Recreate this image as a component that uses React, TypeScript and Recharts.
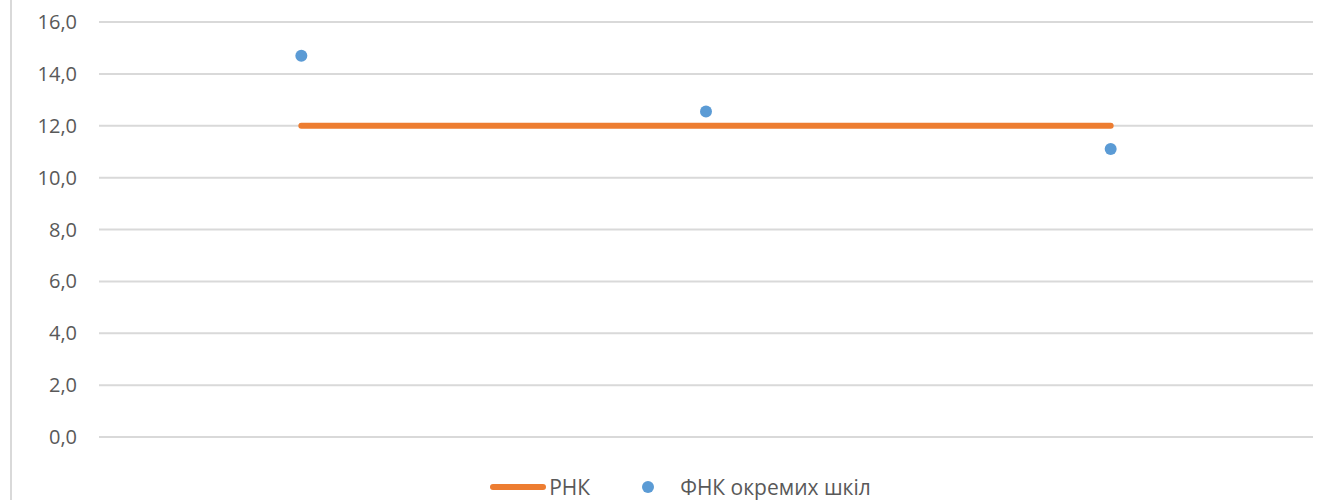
import { ComposedChart, Line, Scatter, XAxis, YAxis, CartesianGrid, Legend } from 'recharts';

const schools = ['Школа 1', 'Школа 2', 'Школа 3'];
const rnk = [12.0, 12.0, 12.0];
const fnk = [14.7, 12.55, 11.1];
const yTicks = [0, 2, 4, 6, 8, 10, 12, 14, 16];

const data = schools.map((name, i) => ({ name, rnk: rnk[i], fnk: fnk[i] }));

const FONT = '"Open Sans", "Noto Sans", sans-serif';

function LegendBox() {
    return (
        <div
            style={{
                height: 58,
                display: 'flex',
                justifyContent: 'center',
                alignItems: 'flex-end',
                fontFamily: FONT,
                fontSize: 21,
                color: '#595959',
            }}
        >
            <div style={{ display: 'flex', alignItems: 'center', height: 30, marginLeft: 48, position: 'relative', top: 7 }}>
                <span style={{ display: 'inline-block', width: 56, height: 6, borderRadius: 3, background: '#ED7D31', marginRight: 3 }} />
                <span>РНК</span>
                <span style={{ display: 'inline-block', width: 12, height: 12, borderRadius: '50%', background: '#5B9BD5', marginLeft: 52, marginRight: 26 }} />
                <span>ФНК окремих шкіл</span>
            </div>
        </div>
    );
}

const Dot = (props: any) => <circle cx={props.cx} cy={props.cy} r={6} fill="#5B9BD5" />;

export default function App() {
    return (
        <div style={{ position: 'absolute', left: 0, top: 0, width: 1323, height: 500, background: '#fff' }}>
            <div style={{ position: 'absolute', left: 10, top: 0, width: 2, height: 500, background: '#d9d9d9' }} />
            <ComposedChart width={1323} height={500} data={data} margin={{ top: 22, right: 10, left: 0, bottom: 5 }}>
                <CartesianGrid vertical={false} stroke="#d9d9d9" strokeWidth={2} />
                <XAxis dataKey="name" scale="band" hide />
                <YAxis
                    domain={[0, 16]}
                    ticks={yTicks}
                    width={99}
                    axisLine={false}
                    tickLine={false}
                    tickSize={0}
                    tickMargin={22}
                    interval={0}
                    tickFormatter={(v: number) => v.toFixed(1).replace('.', ',')}
                    tick={{ fill: '#595959', fontSize: 20, fontFamily: FONT }}
                />
                <Legend verticalAlign="bottom" content={() => <LegendBox />} />
                <Line dataKey="rnk" stroke="#ED7D31" strokeWidth={6} strokeLinecap="round" dot={false} activeDot={false} isAnimationActive={false} />
                <Scatter dataKey="fnk" fill="#5B9BD5" shape={Dot} isAnimationActive={false} />
            </ComposedChart>
        </div>
    );
}
